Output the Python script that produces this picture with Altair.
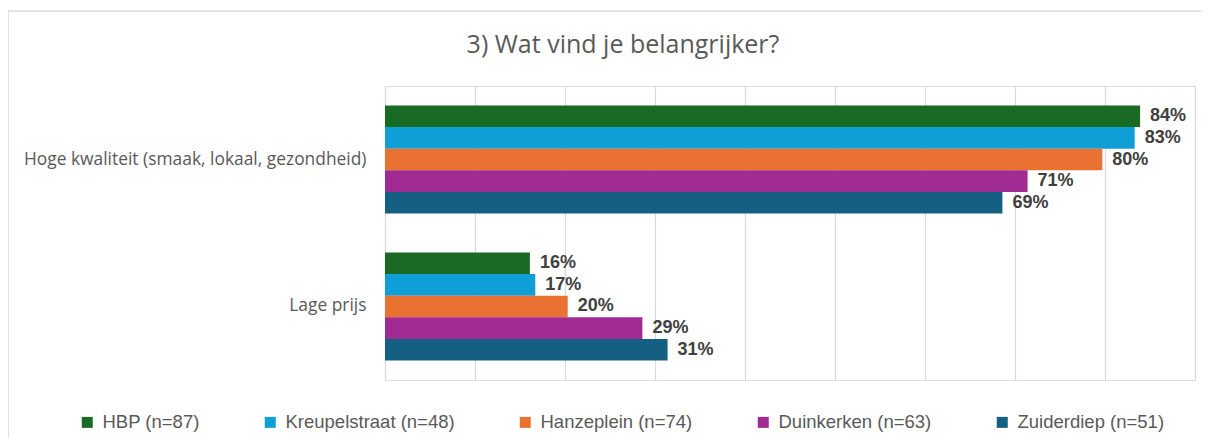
import altair as alt
import pandas as pd

title_text = "3) Wat vind je belangrijker?"
categories = ["Hoge kwaliteit (smaak, lokaal, gezondheid)", "Lage prijs"]
series = ["HBP (n=87)", "Kreupelstraat (n=48)", "Hanzeplein (n=74)",
          "Duinkerken (n=63)", "Zuiderdiep (n=51)"]
colors = ["#196B24", "#0F9ED5", "#E97132", "#A02B93", "#156082"]
hoge = [0.839, 0.833, 0.797, 0.714, 0.686]
lage = [0.161, 0.167, 0.203, 0.286, 0.314]
grid_values = [0.0, 0.1, 0.2, 0.3, 0.4, 0.5, 0.6, 0.7, 0.8, 0.9]

rows = []
for i, s in enumerate(series):
    rows.append({"cat": categories[0], "series": s, "order": i, "value": hoge[i]})
    rows.append({"cat": categories[1], "series": s, "order": i, "value": lage[i]})
df = pd.DataFrame(rows)

W, H = 810, 294
PL, PT = 377, 78

x_scale = alt.Scale(domain=[0, 0.9], nice=False, zero=True)
y_enc = alt.Y("cat:N", sort=categories,
              scale=alt.Scale(paddingInner=0.265, paddingOuter=0.1327),
              axis=alt.Axis(title=None, domain=False, ticks=False, labelPadding=19,
                            labelFont="Open Sans", labelFontSize=17.4, labelColor="#595959",
                            labelLimit=500))
yoff = alt.YOffset("series:N", sort=series, scale=alt.Scale(paddingInner=0, paddingOuter=0))

bars = alt.Chart(df).mark_bar().encode(
    x=alt.X("value:Q", scale=x_scale,
            axis=alt.Axis(title=None, values=grid_values, labels=False, ticks=False,
                          domain=False, grid=True, gridColor="#D9D9D9", gridWidth=1.2)),
    y=y_enc,
    yOffset=yoff,
    color=alt.Color("series:N", sort=series,
                    scale=alt.Scale(domain=series, range=colors),
                    legend=alt.Legend(title=None, orient="none", direction="horizontal",
                                      legendX=-307, legendY=327, columns=5,
                                      columnPadding=61, symbolType="square",
                                      symbolSize=121, symbolStrokeWidth=0,
                                      labelFont="Liberation Sans", labelFontSize=18.5,
                                      labelColor="#595959", labelLimit=400,
                                      labelOffset=6, padding=0)),
)

labels = alt.Chart(df).mark_text(align="left", baseline="middle", dx=10,
                                 font="Liberation Sans", fontSize=18, fontWeight="bold",
                                 color="#404040").encode(
    x=alt.X("value:Q", scale=x_scale),
    y=alt.Y("cat:N", sort=categories),
    yOffset=alt.YOffset("series:N", sort=series),
    text=alt.Text("value:Q", format=".0%"),
)

border = alt.Chart(alt.Data(values=[{"b": 1}])).mark_rect(
    fill="transparent", stroke="#D9D9D9", strokeWidth=1.5).encode(
    x=alt.value(-PL), x2=alt.value(W + 200), y=alt.value(-75), y2=alt.value(H + 200))

title = alt.Chart(alt.Data(values=[{"t": title_text}])).mark_text(
    align="center", baseline="middle", font="Open Sans", fontSize=25,
    color="#595959").encode(
    text="t:N", x=alt.value(238), y=alt.value(-41))

chart = alt.layer(border, bars, labels, title).properties(
    width=W, height=H,
    autosize=alt.AutoSizeParams(type="none"),
    padding={"left": PL, "top": PT, "right": 6, "bottom": 58},
).configure_view(stroke=None).configure(background="white")

chart.save("out.html", embed_options={"renderer": "svg", "actions": False})
